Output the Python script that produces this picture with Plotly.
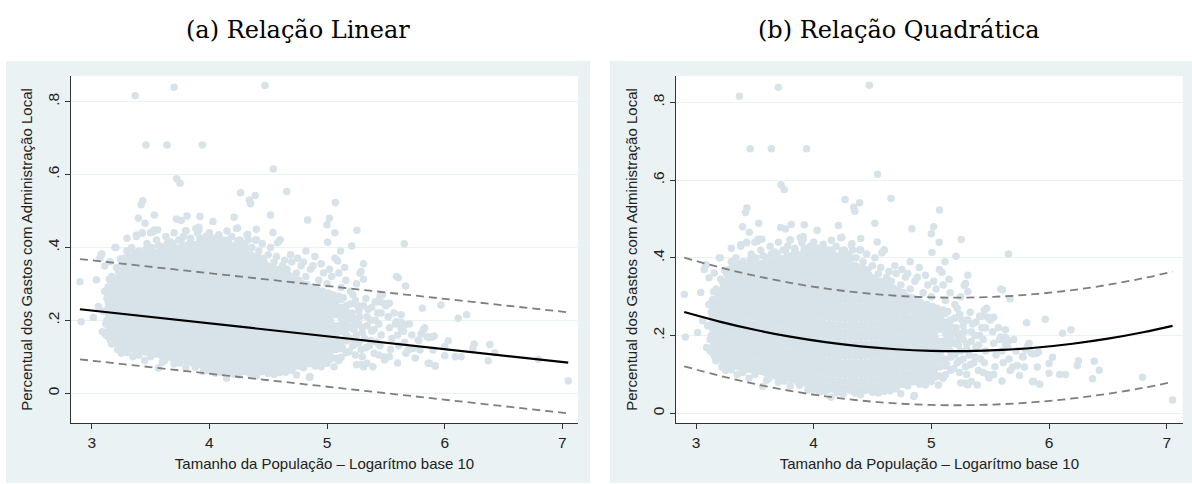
import plotly.graph_objects as go

# ---------------- data ----------------
# dense core of the cloud: (x, y values in thousandths)
core_cols = [
    (3.140, [155,170,187,202,219,234,251,266,282,292]),
    (3.185, [142,150,166,183,198,214,231,246,262,279,294,309,315]),
    (3.230, [132,141,157,174,189,205,222,237,253,270,285,301,318,333,338]),
    (3.275, [125,133,149,166,181,197,214,229,245,262,277,293,310,325,341,352]),
    (3.320, [122,130,146,163,178,194,211,226,242,259,274,290,307,322,338,354,362]),
    (3.365, [119,126,142,159,174,190,207,222,238,255,270,286,303,318,334,350,364,370]),
    (3.410, [116,123,139,156,171,187,204,219,235,252,267,283,300,315,331,347,362,376]),
    (3.455, [113,120,136,153,168,184,201,216,232,249,264,280,297,312,328,344,359,373,379]),
    (3.500, [111,118,134,151,166,182,199,214,230,247,262,278,295,310,326,342,357,371,382]),
    (3.545, [108,115,131,148,163,179,196,211,227,244,259,275,292,307,323,339,354,369,385]),
    (3.590, [104,112,128,145,160,176,193,208,224,241,256,272,289,304,320,336,351,366,381,388]),
    (3.635, [100,108,124,141,156,172,189,204,220,237,252,268,285,300,316,332,347,362,377,391]),
    (3.680, [96,104,120,137,152,168,185,200,216,233,248,264,281,296,312,328,343,358,373,388,394]),
    (3.725, [93,100,116,133,148,164,181,196,212,229,244,260,277,292,308,324,339,354,369,384,398]),
    (3.770, [90,97,113,130,145,161,178,193,209,226,241,257,274,289,305,321,336,351,366,381,396,402]),
    (3.815, [87,94,110,127,142,158,175,190,206,223,238,254,271,286,302,318,333,348,363,378,393,406]),
    (3.860, [82,90,106,123,138,154,171,186,202,219,234,250,267,282,298,314,329,344,359,374,389,402,408]),
    (3.905, [78,86,102,119,134,150,167,182,198,215,230,246,263,278,294,310,325,340,355,370,385,399,410]),
    (3.950, [74,82,98,115,130,146,163,178,194,211,226,242,259,274,290,306,321,336,351,366,381,396,411]),
    (3.995, [70,78,94,111,126,142,159,174,190,207,222,238,255,270,286,302,317,332,347,362,377,392,405,411]),
    (4.040, [67,75,91,108,123,139,156,171,187,204,219,235,252,267,283,299,314,329,344,359,374,389,403,411]),
    (4.085, [64,72,88,105,120,136,153,168,184,201,216,232,249,264,280,296,311,326,341,356,371,386,400,411]),
    (4.130, [62,70,86,103,118,134,151,166,182,199,214,230,247,262,278,294,309,324,339,354,369,384,398,409]),
    (4.175, [61,68,84,101,116,132,149,164,180,197,212,228,245,260,276,292,307,322,337,352,367,382,396,407]),
    (4.220, [60,67,83,100,115,131,148,163,179,196,211,227,244,259,275,291,306,321,336,351,366,381,395,405]),
    (4.265, [59,66,82,99,114,130,147,162,178,195,210,226,243,258,274,290,305,320,335,350,365,380,394,402]),
    (4.310, [59,66,82,99,114,130,147,162,178,195,210,226,243,258,274,290,305,320,335,350,365,380,395]),
    (4.355, [59,67,83,100,115,131,148,163,179,196,211,227,244,259,275,291,306,321,336,351,366,380]),
    (4.400, [59,66,82,99,114,130,147,162,178,195,210,226,243,258,274,290,305,320,335,350,360]),
    (4.445, [59,67,83,100,115,131,148,163,179,196,211,227,244,259,275,291,306,321,336,347]),
    (4.490, [60,67,83,100,115,131,148,163,179,196,211,227,244,259,275,291,306,321,336,341]),
    (4.535, [62,69,85,102,117,133,150,165,181,198,213,229,246,261,277,293,308,323,335]),
    (4.580, [64,71,87,104,119,135,152,167,183,200,215,231,248,263,279,295,310,322,329]),
    (4.625, [66,74,90,107,122,138,155,170,186,203,218,234,251,266,282,298,313,320]),
    (4.670, [69,76,92,109,124,140,157,172,188,205,220,236,253,268,284,300,311]),
    (4.715, [72,80,96,113,128,144,161,176,192,209,224,240,257,272,288,303]),
    (4.760, [75,82,98,115,130,146,163,178,194,211,226,242,259,274,290,297]),
    (4.805, [78,86,102,119,134,150,167,182,198,215,230,246,263,278,291]),
    (4.850, [81,88,104,121,136,152,169,184,200,217,232,248,265,280,285]),
    (4.895, [84,92,108,125,140,156,173,188,204,221,236,252,269,279]),
    (4.940, [87,94,110,127,142,158,175,190,206,223,238,254,270,273]),
    (4.985, [90,98,114,131,146,162,179,194,210,227,242,258,267]),
    (5.030, [93,100,116,133,148,164,181,196,212,229,244,260]),
    (5.075, [96,120,137,152,168,185,216,233,248,260]),
    (5.120, [99,122,139,170,187,218,235,257]),
    (5.165, [111,144,159,192,207,240]),
]

# scattered points around the core (x, y)
halo_points = [
    (3.28,0.370),(3.30,0.390),(3.34,0.400),(3.38,0.430),(3.43,0.440),(3.47,0.410),(3.52,0.443),
    (3.56,0.448),(3.55,0.420),(3.60,0.400),(3.63,0.430),(3.67,0.415),(3.70,0.440),(3.74,0.420),
    (3.78,0.430),(3.80,0.446),(3.84,0.425),(3.886,0.452),(3.90,0.439),(3.93,0.420),(3.97,0.430),
    (4.00,0.440),(4.04,0.425),(4.08,0.435),(4.12,0.420),(4.15,0.445),(4.19,0.430),(4.23,0.452),
    (4.26,0.420),(4.30,0.410),(4.325,0.436),(4.36,0.400),(4.40,0.420),(4.42,0.390),(4.46,0.370),
    (4.50,0.380),(4.55,0.360),(4.60,0.420),(4.58,0.413),(4.62,0.350),(4.66,0.340),(4.70,0.360),
    (4.74,0.330),(4.78,0.350),(4.82,0.320),(4.86,0.340),(4.897,0.375),(4.93,0.310),(4.97,0.330),
    (5.00,0.300),(5.04,0.320),(5.068,0.370),(5.09,0.363),(5.12,0.290),(5.16,0.310),(5.20,0.280),
    (3.08,0.379),(3.11,0.349),(3.206,0.400),(3.243,0.368),(3.155,0.361),(3.07,0.370),
    (3.30,0.425),(3.38,0.434),(3.43,0.439),(3.52,0.443),(3.198,0.400),(3.085,0.382),
    (2.90,0.306),(3.04,0.311),(3.15,0.313),(2.91,0.196),(3.014,0.208),(3.056,0.238),
    (3.09,0.169),(3.12,0.160),(3.10,0.225),(3.13,0.260),(3.12,0.190),
    (3.566,0.069),(4.147,0.041),(4.74,0.050),(4.855,0.046),(3.25,0.110),(3.35,0.100),
    (3.45,0.090),(3.60,0.085),(3.70,0.080),(3.80,0.070),(3.95,0.060),(4.05,0.055),
    (4.25,0.050),(4.40,0.048),(4.55,0.052),(4.65,0.058),(4.95,0.073),(5.06,0.073),
    (5.25,0.078),(5.31,0.073),(5.60,0.083),
    (5.21,0.220),(5.23,0.190),(5.25,0.160),(5.22,0.130),(5.26,0.240),(5.28,0.210),(5.30,0.180),
    (5.32,0.150),(5.29,0.120),(5.33,0.260),(5.35,0.230),(5.37,0.200),(5.38,0.170),(5.36,0.130),
    (5.40,0.110),(5.41,0.250),(5.43,0.220),(5.44,0.190),(5.46,0.160),(5.45,0.130),(5.48,0.100),
    (5.47,0.270),(5.50,0.240),(5.52,0.210),(5.53,0.180),(5.55,0.150),(5.54,0.120),(5.57,0.220),
    (5.58,0.190),(5.60,0.160),(5.61,0.130),(5.63,0.215),(5.63,0.195),(5.65,0.170),(5.66,0.140),
    (5.69,0.119),(5.75,0.097),(5.70,0.190),(5.72,0.160),(5.775,0.146),(5.46,0.220),
    (5.605,0.317),(5.668,0.294),(5.31,0.355),(5.29,0.334),(5.31,0.313),(5.28,0.329),
    (5.25,0.300),(5.22,0.270),(5.59,0.320),(5.45,0.265),(5.48,0.247),(5.53,0.247),
    (5.59,0.196),(5.63,0.178),(5.66,0.187),(5.82,0.174),(5.85,0.155),(5.89,0.154),
    (5.73,0.123),(5.67,0.110),(5.79,0.119),(5.86,0.082),(5.92,0.075),(5.29,0.078),
    (5.34,0.082),(5.39,0.073),(5.49,0.091),(5.53,0.100),(4.85,0.043),
    # ragged right edge of the core
    (5.19,0.115),(5.20,0.150),(5.19,0.180),(5.21,0.205),(5.20,0.245),(5.24,0.105),
    (5.24,0.135),(5.23,0.175),(5.25,0.205),(5.24,0.255),(5.27,0.140),(5.27,0.190),
    (5.27,0.225),(5.30,0.100),(5.30,0.165),(5.31,0.240),(5.33,0.125),(5.34,0.185),
    (5.34,0.210),(5.37,0.145),(5.38,0.235),(5.40,0.175),(5.41,0.200),(5.42,0.140),
    (5.43,0.250),(5.44,0.105),(5.12,0.205),(5.16,0.225),(5.15,0.175),(5.13,0.125),
    # ragged upper edge
    (4.41,0.375),(4.44,0.360),(4.47,0.355),(4.52,0.348),(4.57,0.340),(4.60,0.335),
    (4.64,0.330),(4.68,0.322),(4.72,0.315),(4.76,0.310),(4.79,0.300),(4.83,0.298),
    (4.88,0.290),(4.91,0.285),(4.96,0.280),(5.01,0.275),(5.05,0.270),(5.10,0.266),
    (5.14,0.262),(4.69,0.380),(4.75,0.370),(4.80,0.360),(4.88,0.350),(4.95,0.355),
    (5.02,0.340),(5.10,0.330),(5.15,0.345),(4.52,0.400),(4.45,0.410),(4.33,0.420),
    (4.57,0.375),(4.64,0.365),
    (3.17,0.320),(3.21,0.345),(3.26,0.360),(3.31,0.375),(3.36,0.385),(3.40,0.390),
    (3.46,0.395),(3.51,0.400),(3.57,0.405),(3.64,0.410),(3.69,0.410),(3.76,0.418),
    (3.84,0.420),(3.92,0.425),(4.00,0.425),(4.08,0.422),(4.16,0.420),(4.24,0.418),
    (4.30,0.405),
    # ragged lower / left edges
    (3.30,0.112),(3.40,0.105),(3.50,0.100),(3.62,0.090),(3.75,0.083),(3.88,0.072),
    (4.00,0.062),(4.10,0.057),(4.20,0.053),(4.35,0.052),(4.50,0.054),(4.60,0.057),
    (4.70,0.063),(4.80,0.070),(4.90,0.075),(5.00,0.082),(5.10,0.090),(3.22,0.120),
    (3.17,0.135),(3.13,0.200),(3.14,0.230),(3.16,0.145),(3.11,0.280),
]

# outliers / sparse points (x, y)
sparse_points = [
    (3.369,0.816),(3.70,0.839),(4.473,0.844),(3.461,0.681),(3.64,0.681),(3.94,0.681),
    (4.543,0.615),(3.722,0.588),(3.75,0.576),(4.657,0.553),(4.266,0.550),(4.34,0.530),
    (4.35,0.520),(4.39,0.542),(3.433,0.528),(3.42,0.517),(3.532,0.489),(3.396,0.480),
    (3.453,0.466),(3.72,0.478),(3.76,0.474),(3.81,0.486),(3.92,0.485),(4.03,0.471),
    (4.21,0.483),(4.24,0.453),(4.52,0.489),(4.54,0.441),(4.40,0.450),(4.32,0.434),
    (3.91,0.455),(3.91,0.448),(3.80,0.446),(3.53,0.448),(3.50,0.440),(4.60,0.420),
    (4.39,0.420),(5.07,0.523),(4.835,0.475),(5.02,0.480),(5.00,0.462),(5.067,0.440),
    (5.254,0.447),(5.005,0.414),(5.21,0.404),(5.656,0.410),(4.82,0.390),(5.115,0.390),
    (5.81,0.233),(5.968,0.242),(6.115,0.206),(6.186,0.215),(5.83,0.180),(5.80,0.163),
    (5.91,0.157),(5.86,0.153),(5.78,0.145),(6.03,0.144),(6.00,0.128),(5.90,0.119),
    (6.25,0.135),(6.24,0.123),(6.384,0.134),(6.427,0.111),(6.37,0.089),(6.00,0.103),
    (6.09,0.100),(6.14,0.100),(5.87,0.082),(5.92,0.075),(6.795,0.093),(7.05,0.034),
]

# fitted lines
lin_x = [2.90, 7.05]
lin_fit = [0.2305, 0.084]
lin_hi = [0.368, 0.222]
lin_lo = [0.093, -0.055]

quad_x = [2.9, 3.2, 3.5, 3.8, 4.1, 4.4, 4.7, 5.0, 5.3, 5.6, 5.9, 6.2, 6.5, 6.8, 7.05]
quad_fit = [0.2605, 0.236, 0.2149, 0.1972, 0.183, 0.1722, 0.1648, 0.1608, 0.1602,
            0.163, 0.1693, 0.179, 0.1921, 0.2086, 0.225]
quad_hi = [0.4008, 0.3756, 0.354, 0.3358, 0.3212, 0.3101, 0.3025, 0.2984, 0.2978,
           0.3007, 0.3072, 0.3171, 0.3306, 0.3475, 0.3643]
quad_lo = [0.121, 0.0966, 0.0755, 0.0578, 0.0436, 0.0328, 0.0254, 0.0214, 0.0208,
           0.0234, 0.0292, 0.0381, 0.0502, 0.0654, 0.0805]

y_ticks = [0, 0.2, 0.4, 0.6, 0.8]
y_tick_text = ["0", ".2", ".4", ".6", ".8"]
x_ticks = [3, 4, 5, 6, 7]
titles = ["(a) Relação Linear", "(b) Relação Quadrática"]
x_title = "Tamanho da População – Logarítmo base 10"
y_title = "Percentual dos Gastos com Administração Local"

# ---------------- build ----------------
px_all, py_all = [], []
for cx, ys in core_cols:
    for v in ys:
        px_all.append(cx)
        py_all.append(v / 1000.0)
for a, b in halo_points + sparse_points:
    px_all.append(a)
    py_all.append(b)

W, H = 1192, 484
BG = "#EAF2F3"
MK = "#D7E3E9"
AX = "#333333"
FONT = "Liberation Sans, Arial, sans-serif"

fig = go.Figure()

panels = [
    dict(xa="x", ya="y", fx=lin_x, fit=lin_fit, hi=lin_hi, lo=lin_lo),
    dict(xa="x2", ya="y2", fx=quad_x, fit=quad_fit, hi=quad_hi, lo=quad_lo),
]
for p in panels:
    fig.add_trace(go.Scatter(x=px_all, y=py_all, mode="markers", xaxis=p["xa"], yaxis=p["ya"],
                             marker=dict(size=7.5, color=MK, line=dict(width=0)),
                             showlegend=False, hoverinfo="skip"))
    for ys in (p["hi"], p["lo"]):
        fig.add_trace(go.Scatter(x=p["fx"], y=ys, mode="lines", xaxis=p["xa"], yaxis=p["ya"],
                                 line=dict(color="#7f7f7f", width=1.8, dash="8px,5px",
                                           shape="spline"),
                                 showlegend=False, hoverinfo="skip"))
    fig.add_trace(go.Scatter(x=p["fx"], y=p["fit"], mode="lines", xaxis=p["xa"], yaxis=p["ya"],
                             line=dict(color="black", width=2.2, shape="spline"),
                             showlegend=False, hoverinfo="skip"))

def fx(v):
    return v / W

def fy(v):
    return 1 - v / H

# panel geometry (pixels)
outer = [(6, 61, 590, 483), (610, 61, 1192, 483)]
inner = [(71, 76, 578, 423), (676, 76, 1182.7, 423)]
xr = [(2.824, 7.133), (2.830, 7.136)]
yr = [(-0.0815, 0.870), (-0.025, 0.868)]

shapes = []
for (x0, y0, x1, y1) in outer:
    shapes.append(dict(type="rect", xref="paper", yref="paper", x0=fx(x0), x1=fx(x1),
                       y0=fy(y1), y1=fy(y0), fillcolor=BG, line=dict(width=0), layer="below"))
for (x0, y0, x1, y1) in inner:
    shapes.append(dict(type="rect", xref="paper", yref="paper", x0=fx(x0), x1=fx(x1),
                       y0=fy(y1), y1=fy(y0), fillcolor="white", line=dict(width=0), layer="below"))

axis_common = dict(showline=True, linecolor=AX, linewidth=1.2, ticks="outside", ticklen=5,
                   tickcolor=AX, tickwidth=1.2, zeroline=False,
                   tickfont=dict(family=FONT, size=15.5, color="#222"))

layout = dict(width=W, height=H, margin=dict(l=0, r=0, t=0, b=0),
              paper_bgcolor="white", plot_bgcolor="white", shapes=shapes,
              font=dict(family=FONT))
for i in range(2):
    sx = "" if i == 0 else "2"
    x0, y0, x1, y1 = inner[i]
    layout["xaxis" + sx] = dict(axis_common, domain=[fx(x0), fx(x1)], range=list(xr[i]),
                                tickvals=x_ticks, showgrid=False,
                                anchor="y" + sx,
                                title=dict(text=x_title, standoff=8,
                                           font=dict(family=FONT, size=15, color="#222")))
    layout["yaxis" + sx] = dict(axis_common, domain=[fy(y1), fy(y0)], range=list(yr[i]),
                                tickvals=y_ticks, ticktext=y_tick_text, tickangle=-90,
                                showgrid=True, gridcolor=BG, gridwidth=1.2,
                                anchor="x" + sx,
                                title=dict(text=y_title, standoff=8,
                                           font=dict(family=FONT, size=15, color="#222")))

annotations = []
for t, cx in zip(titles, [298, 898]):
    annotations.append(dict(text=t, x=fx(cx), y=fy(30), xref="paper", yref="paper",
                            showarrow=False, xanchor="center", yanchor="middle",
                            font=dict(family="DejaVu Serif, serif", size=24, color="black")))
layout["annotations"] = annotations

fig.update_layout(**layout)
fig.write_html("out.html")
